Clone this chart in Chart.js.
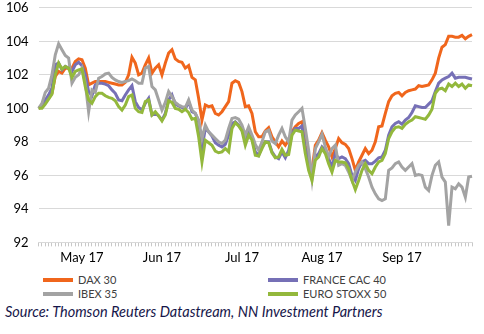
<!DOCTYPE html>
<html>
<head>
<meta charset="utf-8">
<script src="https://cdn.jsdelivr.net/npm/chart.js@4/dist/chart.umd.min.js"></script>
<style>
  body { margin: 0; background: #fff; }
  #wrap { position: relative; width: 484px; height: 334px; overflow: hidden; }
  #box { position: absolute; left: -8px; top: -10px; width: 492px; height: 280px; }
  .leg { position: absolute; font: 11px Lato, sans-serif; color: #404040; }
  .leg span { display: inline-block; width: 30px; height: 4px; vertical-align: middle; margin-right: 5px; position: relative; top: -1px; }
  #source { position: absolute; left: 5px; top: 303px; font: italic 14.5px Lato, sans-serif; color: #16164a; white-space: nowrap; }
</style>
</head>
<body>
<div id="wrap">
  <div id="box"><canvas id="myChart"></canvas></div>
  <div id="legend"></div>
  <div id="source">Source: Thomson Reuters Datastream, NN Investment Partners</div>
</div>
<script>
// month labels and the point index where each one sits
const monthLabels = ["May 17", "Jun 17", "Jul 17", "Aug 17", "Sep 17"];
const monthIndex = [13, 37, 61, 85, 109];

const dax = [100.0, 100.1, 100.4, 100.6, 100.9, 101.9, 102.2, 102.1, 102.4, 102.4,
  102.4, 102.8, 102.95, 102.9, 102.4, 101.4, 101.5, 101.6, 101.6, 101.6,
  101.6, 101.55, 101.5, 101.45, 101.4, 101.4, 101.55, 102.0, 103.05, 102.7,
  102.0, 102.1, 102.6, 103.0, 102.1, 102.4, 102.6, 102.0, 102.7, 103.3,
  103.5, 102.95, 102.8, 102.75, 102.4, 102.55, 101.85, 101.7, 100.6, 99.3,
  100.2, 100.1, 100.15, 99.7, 99.6, 99.8, 100.1, 100.4, 101.5, 101.65,
  101.55, 101.0, 100.1, 100.15, 99.7, 98.6, 98.3, 98.3, 98.65, 98.85,
  98.3, 98.0, 97.7, 98.05, 97.8, 98.1, 98.6, 98.9, 99.1, 99.2,
  97.8, 96.7, 96.3, 97.8, 98.1, 98.55, 98.1, 97.7, 97.1, 97.6,
  98.2, 97.95, 97.85, 97.6, 97.0, 96.3, 96.8, 97.2, 97.6, 97.3,
  97.5, 98.0, 98.9, 98.95, 99.7, 100.4, 100.75, 100.9, 100.95, 100.75,
  100.95, 101.05, 101.1, 101.15, 101.35, 101.3, 101.35, 101.4, 101.7, 102.1,
  103.0, 103.65, 103.8, 104.3, 104.3, 104.25, 104.25, 104.35, 104.15, 104.3,
  104.4];

const cac = [100.0, 100.15, 100.5, 100.8, 101.2, 102.6, 102.7, 102.3, 102.5, 102.4,
  102.2, 102.6, 102.75, 102.55, 102.0, 101.0, 100.75, 101.4, 101.5, 101.5,
  101.45, 101.35, 101.1, 100.9, 100.5, 100.45, 100.8, 101.1, 101.35, 100.4,
  100.05, 99.9, 100.3, 100.6, 99.6, 99.7, 99.55, 99.3, 99.7, 100.5,
  100.8, 100.25, 100.15, 100.05, 99.95, 100.4, 99.8, 99.7, 99.2, 97.6,
  98.8, 98.6, 98.35, 97.95, 97.8, 97.7, 97.85, 98.4, 99.1, 99.2,
  99.0, 98.7, 98.2, 98.6, 98.2, 97.4, 97.2, 97.7, 98.0, 98.0,
  97.4, 97.1, 97.0, 97.4, 97.05, 97.5, 98.5, 98.8, 98.8, 98.95,
  97.6, 96.8, 96.0, 97.1, 97.3, 97.7, 97.5, 97.0, 96.5, 97.3,
  97.0, 97.1, 97.0, 96.7, 96.0, 95.7, 96.4, 96.8, 96.9, 96.7,
  96.7, 96.85, 97.05, 97.1, 97.5, 98.4, 98.9, 99.1, 99.2, 99.05,
  99.3, 99.45, 99.75, 100.15, 100.1, 100.05, 100.05, 100.25, 100.45, 101.0,
  101.5, 101.7, 101.8, 101.9, 102.1, 101.8, 101.85, 101.85, 101.85, 101.8,
  101.75];

const ibex = [100.0, 100.3, 100.95, 101.2, 102.0, 103.2, 103.85, 103.5, 103.15, 103.0,
  101.5, 101.85, 102.0, 102.4, 101.5, 99.8, 101.1, 100.95, 101.8, 101.9,
  102.05, 102.1, 101.85, 101.7, 101.6, 101.55, 101.6, 101.65, 101.75, 101.65,
  101.5, 101.5, 102.4, 102.5, 101.3, 101.1, 100.5, 99.9, 100.35, 101.0,
  100.7, 100.35, 100.2, 100.1, 100.05, 100.5, 99.9, 99.7, 99.3, 98.2,
  99.0, 98.6, 98.4, 98.2, 98.0, 97.9, 98.1, 98.8, 99.4, 99.45,
  99.35, 99.0, 98.4, 98.9, 98.4, 97.85, 97.5, 98.0, 98.6, 98.7,
  98.05, 97.9, 98.4, 98.8, 98.3, 98.0, 99.3, 99.6, 99.8, 100.0,
  98.8, 97.5, 95.8, 97.6, 98.0, 98.45, 97.7, 97.1, 97.6, 97.8,
  96.6, 96.7, 96.6, 96.2, 95.7, 96.2, 96.6, 96.8, 96.4, 95.9,
  95.3, 94.9, 94.6, 94.5, 94.6, 96.3, 96.45, 96.7, 96.8, 96.5,
  96.3, 96.5, 96.7, 96.0, 96.05, 96.0, 95.3, 95.1, 96.0, 96.6,
  96.8, 95.9, 95.6, 93.0, 95.3, 95.2, 95.5, 95.3, 94.7, 95.9,
  95.95];

const stoxx = [100.0, 100.0, 100.25, 100.55, 100.85, 102.0, 102.7, 102.35, 102.5, 102.4,
  101.85, 102.2, 102.3, 102.35, 101.3, 100.5, 100.3, 100.7, 100.9, 100.9,
  100.75, 100.65, 100.6, 100.45, 100.1, 99.9, 100.2, 100.7, 100.8, 100.0,
  99.8, 99.75, 100.4, 100.5, 99.6, 99.8, 99.55, 99.25, 99.6, 100.45,
  100.35, 100.0, 99.95, 99.8, 99.95, 99.75, 99.35, 99.4, 98.3, 96.8,
  98.1, 97.95, 97.8, 97.45, 97.35, 97.4, 97.6, 97.4, 98.8, 99.15,
  98.95, 98.65, 97.8, 98.4, 98.1, 97.2, 97.15, 97.6, 98.0, 97.95,
  97.35, 97.05, 97.1, 97.55, 97.2, 97.25, 98.4, 98.7, 98.65, 98.6,
  97.3, 96.3, 95.7, 96.9, 97.1, 97.6, 97.3, 96.7, 96.2, 96.9,
  96.8, 96.8, 96.75, 96.4, 95.7, 95.15, 95.7, 96.3, 96.7, 96.3,
  96.1, 96.5, 96.8, 96.9, 97.3, 98.2, 98.6, 98.85, 98.9, 98.8,
  99.05, 99.2, 99.3, 99.5, 99.45, 99.4, 99.35, 99.6, 99.95, 100.9,
  101.15, 101.2, 101.05, 101.45, 101.3, 101.5, 101.3, 101.45, 101.2, 101.4,
  101.35];

const yTicks = [92, 94, 96, 98, 100, 102, 104, 106];

// one category per point, only the month starts get a label
const labels = dax.map((v, i) => {
  const k = monthIndex.indexOf(i);
  return k >= 0 ? monthLabels[k] : "";
});

const series = [
  { label: "DAX 30", data: dax, color: "#f0661c", order: 3 },
  { label: "FRANCE CAC 40", data: cac, color: "#7670b6", order: 2 },
  { label: "IBEX 35", data: ibex, color: "#a3a3a3", order: 1 },
  { label: "EURO STOXX 50", data: stoxx, color: "#93b83c", order: 0 }
];

const ctx = document.getElementById("myChart").getContext("2d");
const chart = new Chart(ctx, {
  type: "line",
  data: {
    labels: labels,
    datasets: series.map(s => ({
      label: s.label,
      data: s.data,
      borderColor: s.color,
      backgroundColor: s.color,
      borderWidth: 3,
      pointRadius: 0,
      tension: 0,
      order: s.order
    }))
  },
  options: {
    responsive: true,
    maintainAspectRatio: false,
    animation: false,
    layout: { padding: { left: 4, right: 12, top: 0, bottom: 0 } },
    plugins: {
      legend: { display: false },
      tooltip: { enabled: false }
    },
    scales: {
      x: {
        offset: false,
        grid: { drawOnChartArea: false, drawTicks: true, tickLength: 4, color: "#c8c8c8" },
        border: { color: "#d9d9d9" },
        ticks: {
          autoSkip: false,
          maxRotation: 0,
          padding: 4,
          color: "#000",
          font: { family: "Lato", size: 13 }
        }
      },
      y: {
        min: 92,
        max: 106,
        afterBuildTicks: axis => { axis.ticks = yTicks.map(v => ({ value: v })); },
        grid: { color: "#d9d9d9", drawTicks: false },
        border: { display: false },
        ticks: {
          padding: 10,
          color: "#000",
          font: { family: "Lato", size: 13 }
        }
      }
    }
  }
});

// legend in two columns, built from the datasets
const legendPos = [[43, 273], [268, 273], [43, 287], [268, 287]];
const legend = document.getElementById("legend");
series.forEach((s, i) => {
  const d = document.createElement("div");
  d.className = "leg";
  d.style.left = legendPos[i][0] + "px";
  d.style.top = legendPos[i][1] + "px";
  d.innerHTML = '<span style="background:' + s.color + '"></span>' + s.label;
  legend.appendChild(d);
});
</script>
</body>
</html>
